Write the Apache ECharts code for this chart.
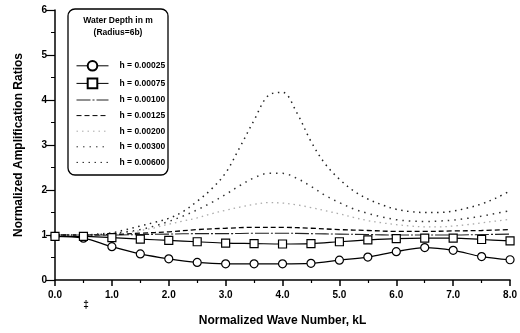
<!DOCTYPE html>
<html>
<head>
    <meta charset="utf-8">
    <title>Normalized Amplification Ratios</title>
    <style>
        *{ margin:0; padding:0; box-sizing:border-box; }
        html, body, #chart{ width:100%; height:100%; overflow:hidden; background:#fff; }
    </style>
</head>
<body>
    <div id="chart"></div>
    <script src="https://cdn.jsdelivr.net/npm/echarts@6/dist/echarts.min.js"></script>
    <script>
        // wave number kL, coarse grid (marker positions) and fine grid
        var kL = [0, 0.5, 1, 1.5, 2, 2.5, 3, 3.5, 4, 4.5, 5, 5.5, 6, 6.5, 7, 7.5, 8];
        var kLFine = [0, 0.25, 0.5, 0.75, 1, 1.25, 1.5, 1.75, 2, 2.25, 2.5, 2.75, 3, 3.25, 3.5, 3.75,
                      4, 4.25, 4.5, 4.75, 5, 5.25, 5.5, 5.75, 6, 6.25, 6.5, 6.75, 7, 7.25, 7.5, 7.75, 8];

        var h00025 = [0.97, 0.93, 0.74, 0.58, 0.47, 0.39, 0.36, 0.36, 0.36, 0.37, 0.44, 0.51, 0.63, 0.72, 0.66, 0.52, 0.45];
        var h00075 = [0.97, 0.97, 0.94, 0.91, 0.88, 0.85, 0.82, 0.81, 0.80, 0.81, 0.85, 0.89, 0.92, 0.93, 0.93, 0.90, 0.87];
        var h00100 = [1.0, 1.0, 1.0, 1.01, 1.02, 1.03, 1.03, 1.04, 1.04, 1.03, 1.02, 1.01, 1.0, 1.0, 1.0, 1.01, 1.02];
        var h00125 = [1.0, 1.0, 1.01, 1.04, 1.07, 1.12, 1.15, 1.17, 1.17, 1.15, 1.12, 1.10, 1.08, 1.08, 1.09, 1.10, 1.12];
        var h00200 = [1.0, 1.0, 1.0, 1.01, 1.02, 1.05, 1.10, 1.16, 1.24, 1.31, 1.38, 1.47, 1.55, 1.62, 1.68, 1.72,
                      1.71, 1.67, 1.61, 1.54, 1.47, 1.39, 1.32, 1.27, 1.23, 1.20, 1.18, 1.18, 1.20, 1.23, 1.27, 1.31, 1.35];
        var h00300 = [1.0, 1.0, 1.0, 1.01, 1.03, 1.07, 1.12, 1.20, 1.30, 1.42, 1.56, 1.72, 1.90, 2.10, 2.27, 2.37,
                      2.37, 2.26, 2.08, 1.88, 1.72, 1.58, 1.48, 1.40, 1.34, 1.31, 1.30, 1.31, 1.33, 1.37, 1.42, 1.48, 1.54];
        var h00600 = [1.0, 1.0, 1.0, 1.02, 1.05, 1.12, 1.20, 1.28, 1.37, 1.52, 1.75, 2.02, 2.38, 2.95, 3.55, 4.10,
                      4.17, 3.72, 3.08, 2.58, 2.24, 1.98, 1.80, 1.67, 1.57, 1.52, 1.50, 1.50, 1.53, 1.60, 1.69, 1.82, 1.98];

        var legendNames = ['h = 0.00025', 'h = 0.00075', 'h = 0.00100', 'h = 0.00125', 'h = 0.00200', 'h = 0.00300', 'h = 0.00600'];

        var FONT = 'Liberation Sans';

        function pairs(xs, ys) {
            return xs.map(function (x, i) { return [x, ys[i]]; });
        }

        function curve(name, xs, ys, style, extra) {
            var s = {
                name: name,
                type: 'line',
                data: pairs(xs, ys),
                smooth: 0.35,
                symbol: 'none',
                lineStyle: style,
                itemStyle: { color: style.color },
                animation: false
            };
            for (var k in extra) s[k] = extra[k];
            return s;
        }

        var chart = echarts.init(document.getElementById('chart'));

        var option = {
            animation: false,
            grid: { left: 55, right: 8, top: 10, bottom: 53 },
            xAxis: {
                type: 'value', min: 0, max: 8, interval: 1,
                name: 'Normalized Wave Number, kL',
                nameLocation: 'middle', nameGap: 35,
                nameTextStyle: { fontFamily: FONT, fontWeight: 'bold', fontSize: 12, color: '#000' },
                axisLine: { lineStyle: { color: '#000', width: 1.5 } },
                axisTick: { length: 6, lineStyle: { color: '#000', width: 1.5 } },
                minorTick: { show: true, splitNumber: 2, length: 3, lineStyle: { color: '#000', width: 1.2 } },
                axisLabel: {
                    margin: 10, color: '#000', fontFamily: FONT, fontWeight: 'bold', fontSize: 10,
                    formatter: function (v) { return v.toFixed(1); }
                },
                splitLine: { show: false }
            },
            yAxis: {
                type: 'value', min: 0, max: 6, interval: 1,
                name: 'Normalized Amplification Ratios',
                nameLocation: 'middle', nameGap: 30,
                nameTextStyle: { fontFamily: FONT, fontWeight: 'bold', fontSize: 12, color: '#000' },
                axisLine: { show: true, lineStyle: { color: '#000', width: 1.5 } },
                axisTick: { show: true, length: 9, lineStyle: { color: '#000', width: 1.2 } },
                minorTick: { show: true, splitNumber: 2, length: 4, lineStyle: { color: '#000', width: 1 } },
                axisLabel: { margin: 8, color: '#000', fontFamily: FONT, fontWeight: 'bold', fontSize: 10 },
                splitLine: { show: false }
            },
            legend: {
                orient: 'vertical',
                left: 71, top: 55,
                itemWidth: 32, itemHeight: 12, itemGap: 6,
                selectedMode: false,
                lineStyle: { width: 1 },
                textStyle: { fontFamily: FONT, fontWeight: 'bold', fontSize: 8.5, color: '#000', padding: [0, 0, 0, 6] },
                data: legendNames.map(function (n, i) {
                    var item = { name: n };
                    if (i >= 2) item.itemStyle = { opacity: 0 };
                    return item;
                })
            },
            graphic: [
                { type: 'rect', z: 1, shape: { x: 68, y: 9, width: 100, height: 166, r: 7 },
                  style: { fill: '#fff', stroke: '#000', lineWidth: 1.3 } },
                { type: 'text', z: 2, x: 118, y: 21,
                  style: { text: 'Water Depth in m', textAlign: 'center', textVerticalAlign: 'middle',
                           font: 'bold 8.5px "Liberation Sans"', fill: '#000' } },
                { type: 'text', z: 2, x: 118, y: 33,
                  style: { text: '(Radius=6b)', textAlign: 'center', textVerticalAlign: 'middle',
                           font: 'bold 8.5px "Liberation Sans"', fill: '#000' } },
                { type: 'text', z: 2, x: 86, y: 305,
                  style: { text: '‡', textAlign: 'center', textVerticalAlign: 'middle',
                           font: 'bold 10px "Liberation Sans"', fill: '#000' } }
            ],
            series: [
                curve(legendNames[0], kL, h00025, { color: '#000', width: 1.2, type: 'solid' },
                      { symbol: 'circle', symbolSize: 8, showSymbol: true,
                        itemStyle: { color: '#fff', borderColor: '#000', borderWidth: 1.2 } }),
                curve(legendNames[1], kL, h00075, { color: '#000', width: 1.2, type: 'solid' },
                      { symbol: 'rect', symbolSize: 8, showSymbol: true,
                        itemStyle: { color: '#fff', borderColor: '#000', borderWidth: 1.2 } }),
                curve(legendNames[2], kL, h00100, { color: '#222', width: 1.1, type: [14, 2, 2, 2] }),
                curve(legendNames[3], kL, h00125, { color: '#000', width: 1.3, type: [5, 3] }),
                curve(legendNames[4], kLFine, h00200, { color: '#aaa', width: 1.3, type: [1.5, 4] }),
                curve(legendNames[5], kLFine, h00300, { color: '#333', width: 1.5, type: [1.5, 5] }),
                curve(legendNames[6], kLFine, h00600, { color: '#222', width: 1.5, type: [1.5, 4.5] })
            ]
        };

        chart.setOption(option);
    </script>
</body>
</html>
